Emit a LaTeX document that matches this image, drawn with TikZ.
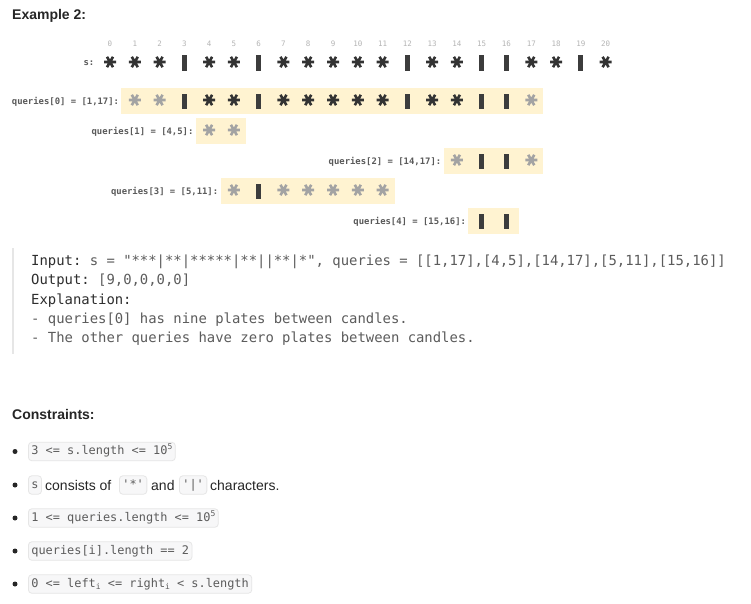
\documentclass[tikz,border=0pt]{standalone}
\usepackage{fontspec}
\setmainfont{Liberation Sans}
\setmonofont{DejaVu Sans Mono}
\definecolor{bandc}{HTML}{FFF3D1}
\definecolor{inkc}{HTML}{333333}
\definecolor{greyast}{HTML}{A3A3A3}
\definecolor{candlec}{HTML}{3C3C3C}
\definecolor{idxc}{HTML}{B4B4B4}
\definecolor{labc}{HTML}{5A5A5A}
\definecolor{textc}{HTML}{262626}
\definecolor{codec}{HTML}{5C5C5C}
\definecolor{codedark}{HTML}{2E2E2E}
\definecolor{icfill}{HTML}{F7F7F8}
\definecolor{icdraw}{HTML}{E6E6E6}
\definecolor{barc}{HTML}{E6E6E6}
\newcommand\mysup[1]{\raisebox{0.42em}{\fontsize{8}{8}\selectfont #1}}
\newcommand\mysub[1]{\raisebox{-0.18em}{\fontsize{8}{8}\selectfont #1}}
\def\colz{110}
\def\colw{24.78}
\tikzset{
  ast/.pic={\draw[line width=2.6pt] (-6,0)--(6,0) (-3,-5.2)--(3,5.2) (-3,5.2)--(3,-5.2);},
  candle/.pic={\fill (-2.5,-7.6) rectangle (2.5,7.6);},
  idx/.style={font=\ttfamily\fontsize{7.5}{8}\selectfont, text=idxc, inner sep=0},
  qlabel/.style={font=\ttfamily\bfseries\fontsize{8.9}{10}\selectfont, text=labc, inner sep=0},
  bandbox/.style={fill=bandc, draw=none, minimum height=26, inner sep=0},
  codeln/.style={font=\ttfamily\fontsize{13.9}{16}\selectfont, text=codec, inner sep=0, anchor=base west},
  head/.style={font=\bfseries\fontsize{14}{16}\selectfont, text=textc, inner sep=0, anchor=base west},
  ptxt/.style={font=\fontsize{14}{16}\selectfont, text=textc, inner sep=0, anchor=base west},
  icode/.style={font=\ttfamily\fontsize{11.9}{13}\selectfont, text=codec, fill=icfill, draw=icdraw, line width=0.8pt, rounded corners=3.5pt, inner xsep=3pt, inner ysep=0pt, minimum height=18.5pt, text height=8.8pt, text depth=2.6pt, anchor=west},
  bulletdot/.style={circle, fill=textc, inner sep=0, minimum size=5pt},
}
\begin{document}
\begin{tikzpicture}[x=1pt,y=-1pt]
\useasboundingbox[fill=white] (0,0) rectangle (751,603);

\node[head] (title) at (12,19.4) {Example 2:};

% index row
\foreach \i in {0,...,20} \node[idx] (i\i) at ({\colz+\i*\colw},44) {\i};

% s row
\node[qlabel, anchor=base east] (slab) at (94.5,65.5) {s:};
\foreach \i in {0,1,2,4,5,7,8,9,10,11,13,14,17,18,20} \pic[color=inkc] at ({\colz+\i*\colw},62) {ast};
\foreach \i in {3,6,12,15,16,19} \pic[color=candlec] at ({\colz+\i*\colw},63) {candle};

% query bands
\node[bandbox, anchor=west, minimum width={16*\colw+25.5}] (b0) at ({\colz+1*\colw-13.5},100.5) {};
\node[bandbox, anchor=west, minimum width={1*\colw+25.5}] (b1) at ({\colz+4*\colw-13.5},130.5) {};
\node[bandbox, anchor=west, minimum width={3*\colw+25.5}] (b2) at ({\colz+14*\colw-13.5},160.5) {};
\node[bandbox, anchor=west, minimum width={6*\colw+25.5}] (b3) at ({\colz+5*\colw-13.5},190.5) {};
\node[bandbox, anchor=west, minimum width={1*\colw+25.5}] (b4) at ({\colz+15*\colw-13.5},220.5) {};

\path (b0.west) ++(-2,3.5) node[qlabel, anchor=base east] (l0) {queries[0] = [1,17]:};
\path (b1.west) ++(-2,3.5) node[qlabel, anchor=base east] (l1) {queries[1] = [4,5]:};
\path (b2.west) ++(-2,3.5) node[qlabel, anchor=base east] (l2) {queries[2] = [14,17]:};
\path (b3.west) ++(-2,3.5) node[qlabel, anchor=base east] (l3) {queries[3] = [5,11]:};
\path (b4.west) ++(-2,3.5) node[qlabel, anchor=base east] (l4) {queries[4] = [15,16]:};

% q0
\foreach \i in {1,2,17} \pic[color=greyast] at ({\colz+\i*\colw},100) {ast};
\foreach \i in {4,5,7,8,9,10,11,13,14} \pic[color=inkc] at ({\colz+\i*\colw},100) {ast};
\foreach \i in {3,6,12,15,16} \pic[color=candlec] at ({\colz+\i*\colw},101.2) {candle};
% q1
\foreach \i in {4,5} \pic[color=greyast] at ({\colz+\i*\colw},130) {ast};
% q2
\foreach \i in {14,17} \pic[color=greyast] at ({\colz+\i*\colw},160) {ast};
\foreach \i in {15,16} \pic[color=candlec] at ({\colz+\i*\colw},161.2) {candle};
% q3
\foreach \i in {5,7,8,9,10,11} \pic[color=greyast] at ({\colz+\i*\colw},190) {ast};
\foreach \i in {6} \pic[color=candlec] at ({\colz+\i*\colw},191.2) {candle};
% q4
\foreach \i in {15,16} \pic[color=candlec] at ({\colz+\i*\colw},221.2) {candle};

% code block
\coordinate (bartop) at (13,248);
\coordinate (barbot) at (13,354);
\draw[barc, line width=2pt] (bartop) -- (barbot);
\node[codeln] (c1) at (31,265.3) {{\color{codedark}Input:} s = "***|**|*****|**||**|*", queries = [[1,17],[4,5],[14,17],[5,11],[15,16]]};
\node[codeln] (c2) at (31,284.7) {{\color{codedark}Output:} [9,0,0,0,0]};
\node[codeln] (c3) at (31,304.0) {{\color{codedark}Explanation:}};
\node[codeln] (c4) at (31,323.3) {- queries[0] has nine plates between candles.};
\node[codeln] (c5) at (31,342.6) {- The other queries have zero plates between candles.};

% constraints
\node[head] (ctitle) at (12,419) {Constraints:};

\node[bulletdot] (d1) at (15,451.5) {};
\node[icode] (k1) at (28,451.5) {3 <= s.length <= 10\mysup{5}};

\node[bulletdot] (d2) at (15,485) {};
\node[icode] (k2a) at (28,485) {s};
\node[ptxt] (k2b) at (45,490) {consists of};
\node[icode] (k2c) at (119,485) {'*'};
\node[ptxt] (k2d) at (151,490) {and};
\node[icode] (k2e) at (179,485) {'|'};
\node[ptxt] (k2f) at (210,490) {characters.};

\node[bulletdot] (d3) at (15,518) {};
\node[icode] (k3) at (28,518) {1 <= queries.length <= 10\mysup{5}};

\node[bulletdot] (d4) at (15,551) {};
\node[icode] (k4) at (28,551) {queries[i].length == 2};

\node[bulletdot] (d5) at (15,584) {};
\node[icode] (k5) at (28,584) {0 <= left\mysub{i} <= right\mysub{i} < s.length};
\end{tikzpicture}
\end{document}
